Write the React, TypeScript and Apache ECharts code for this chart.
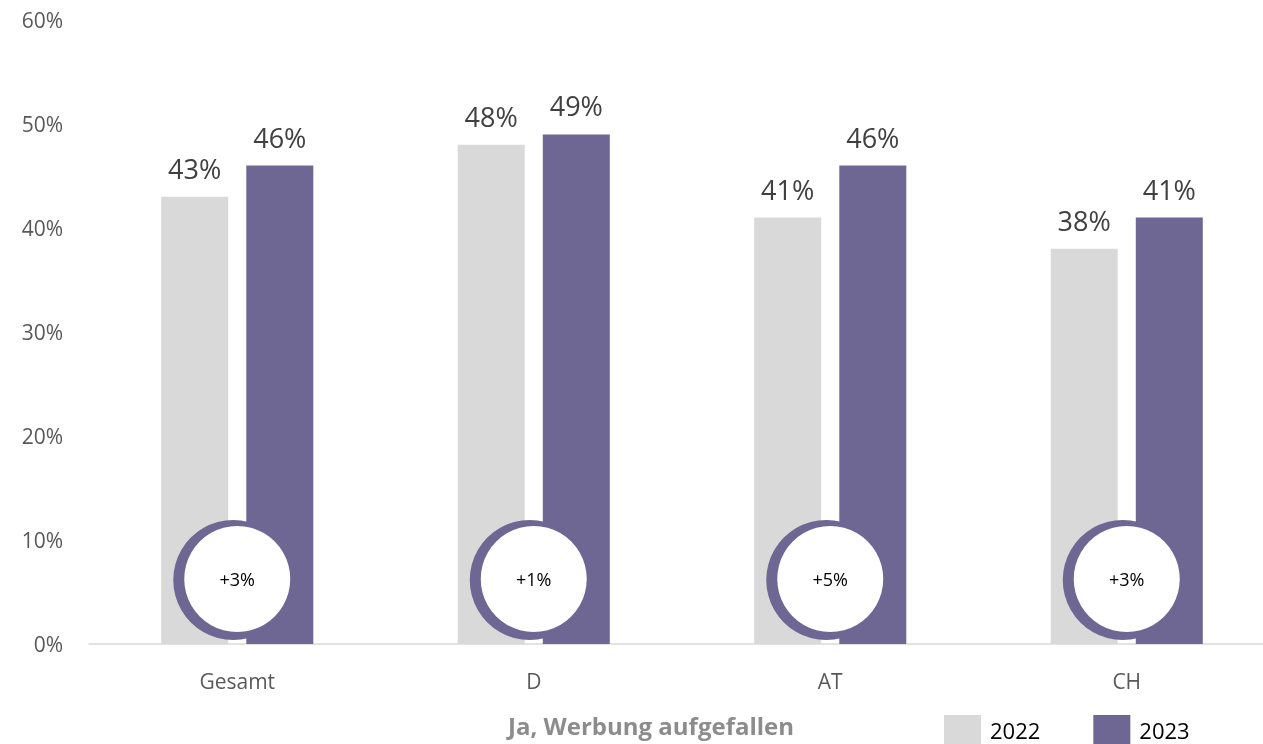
import React, { useEffect, useRef } from "react";
import * as echarts from "echarts";

const categories = ["Gesamt", "D", "AT", "CH"];
const values2022 = [43, 48, 41, 38];
const values2023 = [46, 49, 46, 41];
const seriesNames = ["2022", "2023"];
const yTicks = { min: 0, max: 60, interval: 10 };
const footerTitle = "Ja, Werbung aufgefallen";

const GRAY = "#d9d9d9";
const PURPLE = "#6e6793";
const FONT = "'Open Sans', 'Noto Sans', sans-serif";

export default function App() {
  const ref = useRef<HTMLDivElement>(null);
  useEffect(() => {
    document.body.style.overflow = "hidden";
    if (!ref.current) return;
    const chart = echarts.init(ref.current, null, { renderer: "svg" });
    const diffs = values2023.map((v, i) => v - values2022[i]);
    chart.setOption({
      animation: false,
      textStyle: { fontFamily: FONT },
      title: {
        text: footerTitle,
        left: 508,
        top: 713,
        padding: 0,
        textStyle: { fontFamily: FONT, fontSize: 24, fontWeight: "bold", color: "#8c8c8c" },
      },
      legend: {
        data: seriesNames,
        left: 944,
        top: 715,
        padding: 0,
        itemWidth: 37,
        itemHeight: 29,
        itemGap: 53,
        icon: "rect",
        textStyle: { fontFamily: FONT, fontSize: 22, color: "#000000", padding: [0, 0, 0, 4] },
      },
      grid: { left: 89, right: 0, top: 20, bottom: 100, containLabel: false },
      xAxis: {
        type: "category",
        data: categories,
        axisLine: { show: true, lineStyle: { color: GRAY, width: 1.5 } },
        axisTick: { show: false },
        axisLabel: { fontFamily: FONT, fontSize: 21, color: "#595959", margin: 26 },
      },
      yAxis: {
        type: "value",
        min: yTicks.min,
        max: yTicks.max,
        interval: yTicks.interval,
        splitLine: { show: false },
        axisLine: { show: false },
        axisTick: { show: false },
        axisLabel: { fontFamily: FONT, fontSize: 21, color: "#595959", formatter: "{value}%", margin: 26 },
      },
      series: [
        {
          name: seriesNames[0],
          type: "bar",
          data: values2022,
          barWidth: 67,
          barGap: "27%",
          itemStyle: { color: GRAY },
          label: { show: true, position: "top", distance: 15, formatter: "{c}%", fontFamily: FONT, fontSize: 27, color: "#404040" },
        },
        {
          name: seriesNames[1],
          type: "bar",
          data: values2023,
          barWidth: 67,
          barGap: "27%",
          itemStyle: { color: PURPLE },
          label: { show: true, position: "top", distance: 15, formatter: "{c}%", fontFamily: FONT, fontSize: 27, color: "#404040" },
        },
        {
          name: "diff",
          type: "custom",
          data: diffs.map((d, i) => [i, d]),
          z: 10,
          renderItem: (params: any, api: any) => {
            const i = api.value(0);
            const d = api.value(1);
            const base = api.coord([i, 0]);
            const cx = base[0];
            const cy = base[1] - 65;
            return {
              type: "group",
              children: [
                { type: "circle", shape: { cx: cx - 4, cy: cy + 1, r: 60 }, style: { fill: PURPLE } },
                { type: "circle", shape: { cx: cx, cy: cy, r: 53 }, style: { fill: "#ffffff" } },
                {
                  type: "text",
                  x: cx,
                  y: cy,
                  style: {
                    text: (d >= 0 ? "+" : "") + d + "%",
                    fill: "#000000",
                    fontFamily: FONT,
                    fontSize: 18,
                    align: "center",
                    verticalAlign: "middle",
                  },
                },
              ],
            };
          },
        },
      ],
    });
    return () => chart.dispose();
  }, []);
  return <div ref={ref} style={{ position: "fixed", left: 0, top: 0, width: 1275, height: 744 }} />;
}
